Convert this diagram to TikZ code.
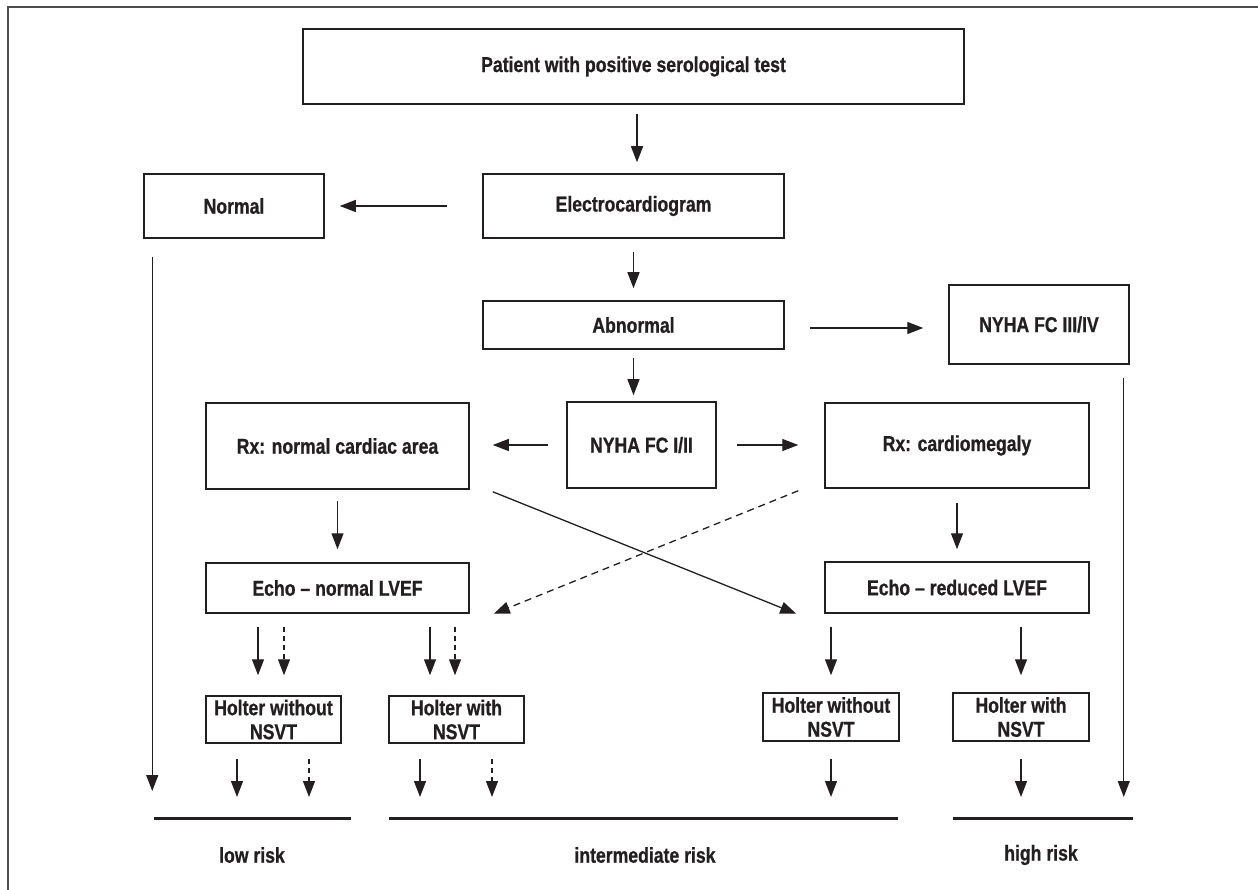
\documentclass[tikz,border=0pt]{standalone}
\usepackage{fontspec}
\setmainfont{Liberation Sans}[FakeStretch=0.82, BoldFeatures={FakeBold=0.8}]
\usetikzlibrary{arrows.meta,calc}
\definecolor{ink}{HTML}{231F20}
\tikzset{
  box/.style={draw=ink, line width=1.5pt, inner sep=0pt, align=center, text=ink},
  arr/.style={draw=ink, line width=1.3pt, -{Triangle[length=16pt,width=12pt]}},
  darr/.style={arr, dash pattern=on 5pt off 4pt},
  ddiag/.style={arr, dash pattern=on 7pt off 5pt},
  riskline/.style={draw=ink, line width=3pt},
  lbl/.style={inner sep=0pt, text=ink},
  framel/.style={draw=ink!80, line width=1.5pt}
}
\begin{document}
\begin{tikzpicture}[x=1pt,y=-1pt,font=\fontsize{21.5}{25}\selectfont\bfseries]
\useasboundingbox (0,0) rectangle (1258,890);
\draw[framel] (8,890) -- (8,7) -- (1258,7);

% boxes
\node[box, minimum width=661pt, minimum height=75pt] (pat) at (633.5,66.5) {Patient with positive serological test};
\node[box, minimum width=180pt, minimum height=64pt] (norm) at (234,206) {Normal};
\node[box, minimum width=301pt, minimum height=64pt] (ecg) at (633.5,206) {Electrocardiogram};
\node[box, minimum width=301pt, minimum height=48pt] (abn) at (633.5,325) {Abnormal};
\node[box, minimum width=180pt, minimum height=79pt] (nyha34) at (1039,324.5) {NYHA FC III/IV};
\node[box, minimum width=149pt, minimum height=86pt] (nyha12) at (641.5,445) {NYHA FC I/II};
\node[box, minimum width=263pt, minimum height=86pt] (rxn) at (337.5,446) {Rx: normal cardiac area};
\node[box, minimum width=264pt, minimum height=85pt] (rxc) at (957,445.5) {Rx: cardiomegaly};
\node[box, minimum width=263pt, minimum height=50pt] (echon) at (337.5,588) {Echo -- normal LVEF};
\node[box, minimum width=264pt, minimum height=51pt] (echor) at (957,587.5) {Echo -- reduced LVEF};
\node[box, minimum width=135pt, minimum height=47pt] (h1) at (273.5,719.5) {Holter without\\[-1pt]NSVT};
\node[box, minimum width=135pt, minimum height=47pt] (h2) at (456.5,719.5) {Holter with\\[-1pt]NSVT};
\node[box, minimum width=136pt, minimum height=48pt] (h3) at (831,717) {Holter without\\[-1pt]NSVT};
\node[box, minimum width=136pt, minimum height=48pt] (h4) at (1021,717) {Holter with\\[-1pt]NSVT};

% risk lines
\coordinate (lowA) at (154,818);
\coordinate (lowB) at (351,818);
\coordinate (intA) at (389,818);
\coordinate (intB) at (898,818);
\coordinate (highA) at (953,818);
\coordinate (highB) at (1133,818);
\draw[riskline] (lowA) -- (lowB);
\draw[riskline] (intA) -- (intB);
\draw[riskline] (highA) -- (highB);
\node[lbl] (lowlbl) at (252,855) {low risk};
\node[lbl] (intlbl) at (645,855) {intermediate risk};
\node[lbl] (highlbl) at (1041,855) {high risk};

% connectors
\draw[arr, shorten <=9pt, shorten >=11pt] ([xshift=3.5pt]pat.south) -- ([xshift=3.5pt]ecg.north);
\draw[arr, shorten <=35pt, shorten >=15pt] (ecg.west) -- (norm.east);
\draw[arr, shorten <=18pt, shorten >=27pt] ([xshift=9pt]norm.south west) -- ([xshift=9pt]norm.south west |- lowA);
\draw[arr, shorten <=13pt, shorten >=12pt] (ecg.south) -- (abn.north);
\draw[arr, shorten <=25pt, shorten >=25pt] ([yshift=-3pt]abn.east) -- ([yshift=-3pt]abn.east -| nyha34.west);
\draw[arr, shorten <=8pt, shorten >=6pt] (abn.south) -- (abn.south |- nyha12.north);
\draw[arr, shorten <=18pt, shorten >=23pt] (nyha12.west) -- (nyha12.west -| rxn.east);
\draw[arr, shorten <=20pt, shorten >=26pt] (nyha12.east) -- (nyha12.east -| rxc.west);
\draw[arr, shorten <=11pt, shorten >=13pt] (rxn.south) -- (echon.north);
\draw[arr, shorten <=14pt, shorten >=12pt] (rxc.south) -- (echor.north);
\draw[arr] ([xshift=23pt,yshift=-2pt]rxn.south east) -- ([xshift=-28pt]echor.south west);
\draw[ddiag] ([xshift=-26pt,yshift=-2pt]rxc.south west) -- ([xshift=24pt]echon.south east);

% echo -> holter
\draw[arr, shorten <=13pt, shorten >=20pt] ([xshift=-15.5pt]h1.north |- echon.south) -- ([xshift=-15.5pt]h1.north);
\draw[darr, shorten <=13pt, shorten >=20pt] ([xshift=10.5pt]h1.north |- echon.south) -- ([xshift=10.5pt]h1.north);
\draw[arr, shorten <=13pt, shorten >=20pt] ([xshift=-26.5pt]h2.north |- echon.south) -- ([xshift=-26.5pt]h2.north);
\draw[darr, shorten <=13pt, shorten >=20pt] ([xshift=-1.5pt]h2.north |- echon.south) -- ([xshift=-1.5pt]h2.north);
\draw[arr, shorten <=13pt, shorten >=17pt] (h3.north |- echor.south) -- (h3.north);
\draw[arr, shorten <=13pt, shorten >=17pt] (h4.north |- echor.south) -- (h4.north);

% holter -> risk
\draw[arr, shorten <=15pt, shorten >=21pt] ([xshift=-36.5pt]h1.south) -- ([xshift=-36.5pt]h1.south |- lowA);
\draw[darr, shorten <=15pt, shorten >=21pt] ([xshift=35.5pt]h1.south) -- ([xshift=35.5pt]h1.south |- lowA);
\draw[arr, shorten <=15pt, shorten >=21pt] ([xshift=-36.5pt]h2.south) -- ([xshift=-36.5pt]h2.south |- intA);
\draw[darr, shorten <=15pt, shorten >=21pt] ([xshift=35.5pt]h2.south) -- ([xshift=35.5pt]h2.south |- intA);
\draw[arr, shorten <=17pt, shorten >=21pt] (h3.south) -- (h3.south |- intA);
\draw[arr, shorten <=17pt, shorten >=21pt] (h4.south) -- (h4.south |- highA);
\draw[arr, shorten <=13pt, shorten >=21pt] ([xshift=-6pt]nyha34.south east) -- ([xshift=-6pt]nyha34.south east |- highA);
\end{tikzpicture}
\end{document}
